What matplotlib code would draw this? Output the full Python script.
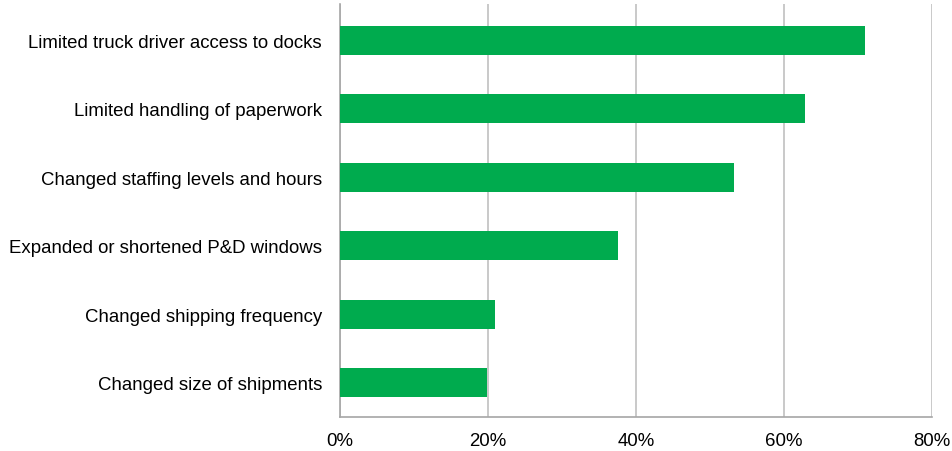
import matplotlib
matplotlib.use("Agg")
import matplotlib.pyplot as plt
from matplotlib.ticker import FuncFormatter

categories = [
    "Limited truck driver access to docks",
    "Limited handling of paperwork",
    "Changed staffing levels and hours",
    "Expanded or shortened P&D windows",
    "Changed shipping frequency",
    "Changed size of shipments",
]
values = [70.9, 62.9, 53.3, 37.5, 20.9, 19.8]
xticks = [0, 20, 40, 60, 80]

plt.rcParams['font.family'] = ['Liberation Sans', 'DejaVu Sans']

fig = plt.figure(figsize=(9.52, 4.52), dpi=100)
ax = fig.add_axes([340/952, 1-418/452, (932-340)/952, (418-5)/452])

ypos = list(range(len(categories)))[::-1]
ax.barh(ypos, values, height=0.42, color="#00AB4E", zorder=3)
ax.set_ylim(-0.5, len(categories)-0.47)
ax.set_xlim(0, 80)
ax.set_xticks(xticks)
ax.xaxis.set_major_formatter(FuncFormatter(lambda v, p: f"{v:.0f}%"))
ax.set_yticks(ypos)
ax.set_yticklabels(categories)
ax.tick_params(axis='both', length=0, labelsize=13.4, colors="#000000")
ax.tick_params(axis='y', pad=13)
ax.tick_params(axis='x', pad=11)
ax.grid(axis='x', color="#C0C0C0", linewidth=1.2, zorder=0)
for s in ['top', 'right']:
    ax.spines[s].set_visible(False)
for s in ['left', 'bottom']:
    ax.spines[s].set_color("#A6A6A6")
    ax.spines[s].set_linewidth(1.2)

fig.savefig("out.png", dpi=100)
